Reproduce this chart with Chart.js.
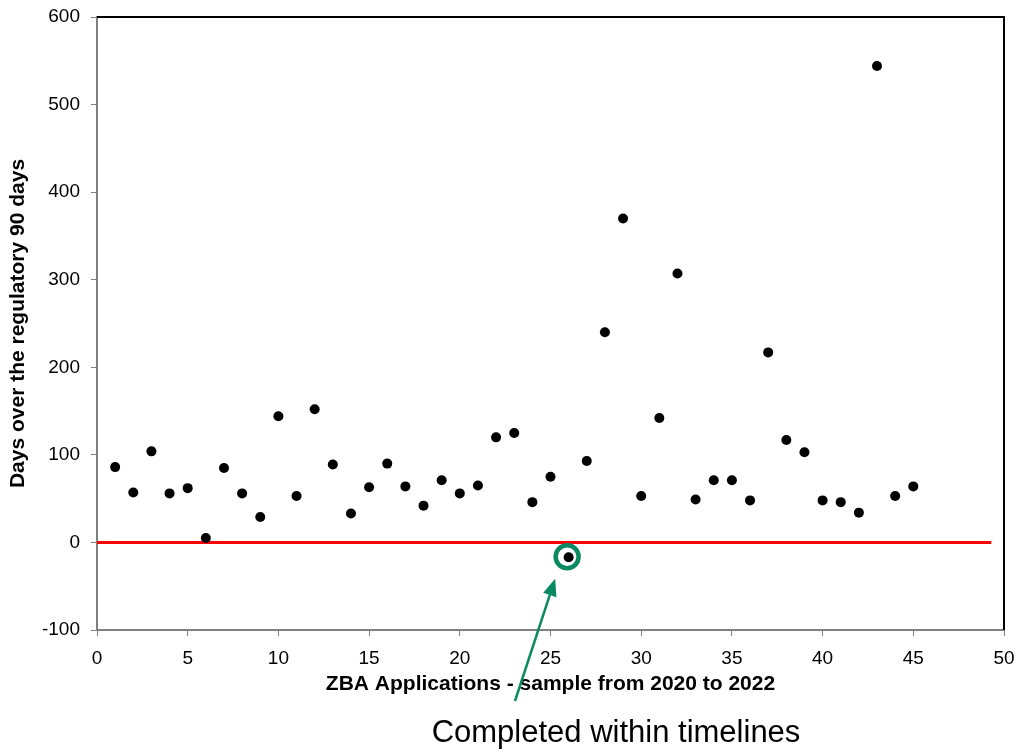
<!DOCTYPE html>
<html>
<head>
<meta charset="utf-8">
<script src="https://cdn.jsdelivr.net/npm/chart.js@4.4.1/dist/chart.umd.min.js"></script>
<style>
html,body{margin:0;padding:0;background:#fff;}
#c{display:block;}
</style>
</head>
<body>
<canvas id="c" width="1022" height="752"></canvas>
<script>
// ---- Data ----
const applicationIds = [1,2,3,4,5,6,7,8,9,10,11,12,13,14,15,16,17,18,19,20,21,22,23,24,25,26,27,28,29,30,31,32,33,34,35,36,37,38,39,40,41,42,43,44,45];
const daysOver = [86,57,104,56,62,5,85,56,29,144,53,152,89,33,63,90,64,42,71,56,65,120,125,46,75,-17,93,240,370,53,142,307,49,71,71,48,217,117,103,48,46,34,544,53,64];
const thresholdValue = 0;
const thresholdXRange = [0, 49.3];
const xTicks = [0,5,10,15,20,25,30,35,40,45,50];
const yTicks = [-100,0,100,200,300,400,500,600];
const highlightedId = 26;
const xTitle = 'ZBA Applications - sample from 2020 to 2022';
const yTitle = 'Days over the regulatory 90 days';
const calloutText = 'Completed within timelines';

const FONT = '"Liberation Sans", Arial, sans-serif';
const GREEN = '#0b8a62';

const scatterData = applicationIds.map((id, i) => ({x: id, y: daysOver[i]}));
const thresholdData = thresholdXRange.map(x => ({x: x, y: thresholdValue}));

const annotPlugin = {
  id: 'annot',
  afterDatasetsDraw(chart) {
    const ctx = chart.ctx;
    const a = chart.chartArea;
    const xs = chart.scales.x, ys = chart.scales.y;
    ctx.save();
    // top and right frame
    ctx.strokeStyle = '#000';
    ctx.lineWidth = 2;
    ctx.beginPath();
    ctx.moveTo(a.left, a.top);
    ctx.lineTo(a.right, a.top);
    ctx.lineTo(a.right, a.bottom);
    ctx.stroke();
    // highlight circle
    const idx = applicationIds.indexOf(highlightedId);
    const cx = xs.getPixelForValue(highlightedId) - 1.5;
    const cy = ys.getPixelForValue(daysOver[idx]) - 0.5;
    ctx.strokeStyle = GREEN;
    ctx.lineWidth = 4.5;
    ctx.beginPath();
    ctx.arc(cx, cy, 11.5, 0, Math.PI * 2);
    ctx.stroke();
    // arrow
    const tipX = cx - 12, tipY = cy + 22;
    const tailX = 515, tailY = 701;
    const ang = Math.atan2(tipY - tailY, tipX - tailX);
    const headLen = 17, headW = 7;
    const baseX = tipX - headLen * Math.cos(ang), baseY = tipY - headLen * Math.sin(ang);
    ctx.lineWidth = 2.5;
    ctx.beginPath();
    ctx.moveTo(tailX, tailY);
    ctx.lineTo(baseX, baseY);
    ctx.stroke();
    ctx.fillStyle = GREEN;
    ctx.beginPath();
    ctx.moveTo(tipX, tipY);
    ctx.lineTo(baseX + headW * Math.sin(ang), baseY - headW * Math.cos(ang));
    ctx.lineTo(baseX - headW * Math.sin(ang), baseY + headW * Math.cos(ang));
    ctx.closePath();
    ctx.fill();
    // callout text
    ctx.fillStyle = '#000';
    ctx.font = '31px ' + FONT;
    ctx.textAlign = 'center';
    ctx.textBaseline = 'middle';
    ctx.fillText(calloutText, 616, 733);
    ctx.restore();
  }
};

new Chart(document.getElementById('c'), {
  type: 'scatter',
  data: {
    datasets: [
      {
        label: 'Threshold',
        type: 'line',
        data: thresholdData,
        borderColor: '#ff0000',
        borderWidth: 3,
        pointRadius: 0,
        fill: false,
        order: 2
      },
      {
        label: 'Days over',
        data: scatterData,
        backgroundColor: '#000',
        borderColor: '#000',
        borderWidth: 0,
        pointRadius: 5,
        order: 1
      }
    ]
  },
  options: {
    responsive: false,
    animation: false,
    devicePixelRatio: 1,
    layout: {padding: {top: 17, right: 18, left: 0, bottom: 0}},
    plugins: {legend: {display: false}, tooltip: {enabled: false}},
    scales: {
      x: {
        type: 'linear',
        min: 0, max: 50,
        afterBuildTicks(s) { s.ticks = xTicks.map(v => ({value: v})); },
        afterFit(s) { s.height = 122; s.paddingLeft = 0; s.paddingRight = 0; },
        ticks: {font: {family: FONT, size: 19}, color: '#000', padding: 11, maxRotation: 0},
        grid: {drawOnChartArea: false, drawTicks: true, tickLength: 6, color: '#808080', lineWidth: 1},
        border: {color: '#808080', width: 2},
        title: {display: true, text: xTitle, font: {family: FONT, size: 21, weight: 'bold'}, color: '#000', padding: {top: 0, bottom: 55}}
      },
      y: {
        type: 'linear',
        min: -100, max: 600,
        afterBuildTicks(s) { s.ticks = yTicks.map(v => ({value: v})); },
        afterFit(s) { s.width = 97; s.paddingTop = 0; s.paddingBottom = 0; },
        ticks: {font: {family: FONT, size: 19}, color: '#000', padding: 11},
        grid: {drawOnChartArea: false, drawTicks: true, tickLength: 6, color: '#808080', lineWidth: 1},
        border: {color: '#808080', width: 2},
        title: {display: true, text: yTitle, font: {family: FONT, size: 21, weight: 'bold'}, color: '#000', padding: {top: 6, bottom: 0}}
      }
    }
  },
  plugins: [annotPlugin]
});
</script>
</body>
</html>
